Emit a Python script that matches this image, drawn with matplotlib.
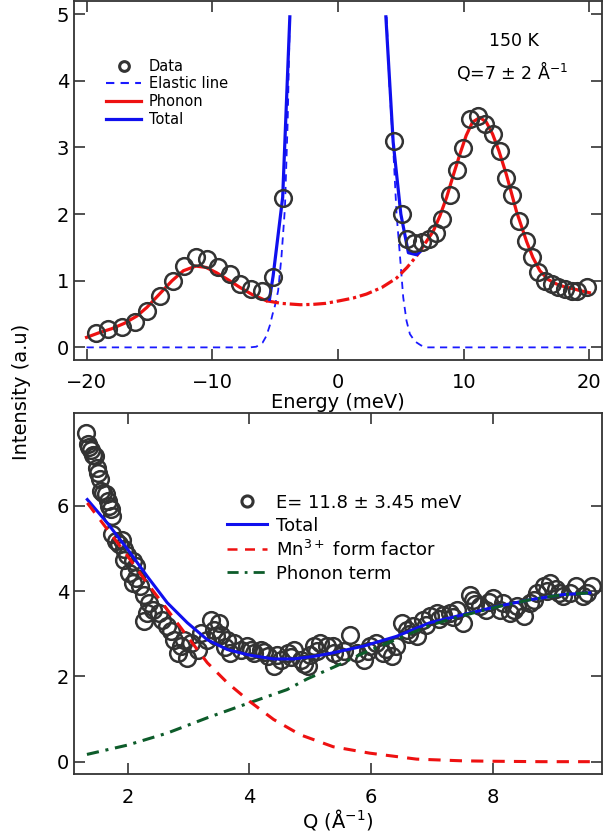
import matplotlib
matplotlib.use("Agg")
import matplotlib.pyplot as plt

plt.rcParams['font.family'] = ['DejaVu Sans']

# ---------------- top panel data ----------------
energy = [-19.28, -18.28, -17.2, -16.16, -15.23, -14.17, -13.16, -12.26, -11.33, -10.45,
          -9.53, -8.6, -7.8, -6.95, -6.03, -5.15, -4.36,
          4.42, 5.08, 5.5, 6.06, 6.7, 7.25, 7.8, 8.3, 8.88, 9.43, 9.96, 10.49, 11.1,
          11.7, 12.35, 12.88, 13.36, 13.85, 14.4, 14.93, 15.4, 15.93, 16.46, 16.99,
          17.52, 18.05, 18.59, 19.0, 19.8]
intensity_e = [0.22, 0.27, 0.31, 0.38, 0.54, 0.77, 1.00, 1.22, 1.35, 1.32,
               1.21, 1.10, 0.95, 0.88, 0.85, 1.05, 2.24,
               3.10, 2.00, 1.62, 1.56, 1.58, 1.62, 1.72, 1.92, 2.29, 2.66, 2.99, 3.42, 3.47,
               3.35, 3.20, 2.95, 2.54, 2.29, 1.90, 1.59, 1.35, 1.13, 1.00, 0.95,
               0.90, 0.87, 0.85, 0.84, 0.91]

elastic_left_x = [-20, -7.0, -6.5, -6.0, -5.7, -5.42, -5.2, -5.02, -4.76, -4.5, -4.22, -4.0, -3.83]
elastic_left_y = [0, 0, 0.01, 0.07, 0.17, 0.33, 0.5, 0.62, 0.85, 1.35, 2.09, 3.4, 4.96]
elastic_right_x = [3.87, 4.1, 4.39, 4.66, 4.92, 5.19, 5.45, 5.72, 6.12, 6.6, 7.05, 20]
elastic_right_y = [4.96, 3.9, 3.0, 2.0, 1.4, 0.75, 0.4, 0.2, 0.09, 0.03, 0.0, 0.0]

# phonon fit: left wing, middle (unfitted) section, right wing
phonon_left_x = [-20, -19, -18, -17, -16, -15.2, -14.2, -13.2, -12.3, -11.3, -10.5, -9.66,
                 -8.7, -7.8, -6.8, -5.7]
phonon_left_y = [0.15, 0.22, 0.28, 0.36, 0.47, 0.60, 0.80, 1.0, 1.15, 1.22, 1.2, 1.12,
                 1.01, 0.90, 0.79, 0.70]
phonon_mid_x = [-5.7, -4.5, -3.0, -2.0, -1.0, 0.15, 1.2, 2.27, 3.5, 4.66, 5.5, 6.25, 7.0]
phonon_mid_y = [0.70, 0.66, 0.64, 0.645, 0.66, 0.70, 0.74, 0.80, 0.90, 1.04, 1.2, 1.37, 1.58]
phonon_right_x = [7.0, 7.57, 8.1, 8.64, 9.2, 9.7, 10.2, 10.7, 11.29, 11.8, 12.3, 12.8, 13.4,
                  14.2, 15.0, 15.5, 16.06, 16.7, 17.39, 18.0, 18.7, 19.3, 20.0]
phonon_right_y = [1.58, 1.74, 1.97, 2.25, 2.6, 2.9, 3.18, 3.38, 3.45, 3.38, 3.2, 2.95, 2.59,
                  2.04, 1.59, 1.35, 1.15, 1.02, 0.95, 0.91, 0.88, 0.85, 0.82]

total_left_x = [-5.45, -5.16, -4.4, -3.83]
total_left_y = [0.72, 1.07, 2.25, 4.96]
total_right_x = [3.81, 4.39, 5.0, 5.6, 6.25, 6.5]
total_right_y = [4.96, 3.08, 2.0, 1.42, 1.39, 1.43]

# ---------------- bottom panel data ----------------
q_data = [1.31, 1.34, 1.37, 1.39, 1.43, 1.46, 1.49, 1.51, 1.55, 1.56, 1.60, 1.64, 1.67, 1.70,
          1.72, 1.75, 1.75, 1.80, 1.86, 1.91, 1.94, 1.99, 1.94, 2.08, 2.13, 2.02, 2.13, 2.08,
          2.21, 2.27, 2.35, 2.32, 2.41, 2.52, 2.27, 2.57, 2.65, 2.71, 2.76, 2.87, 2.82, 2.93,
          3.04, 3.15, 2.98, 3.37, 3.50, 3.42, 3.20, 3.31, 3.53, 3.64, 3.75, 3.86, 3.69, 3.97,
          4.08, 4.19, 4.30, 4.41, 4.52, 4.63, 4.74, 4.85, 4.96, 5.06, 5.17, 5.28, 5.39,
          3.45, 3.60, 4.02, 4.25, 4.45, 4.68, 4.90, 5.00, 5.12,
          5.38, 5.49, 5.66, 5.77, 5.88, 5.99, 6.09, 6.20, 6.34, 6.42, 6.51, 6.59, 6.70, 6.75,
          6.86, 6.97, 7.08, 7.19, 7.30, 7.41, 7.52, 7.63, 7.68, 7.79, 7.90, 8.01, 8.12, 8.18,
          8.29, 8.40, 8.51, 8.62, 8.73, 8.84, 8.94, 9.05, 9.16, 9.27, 9.38, 9.49, 9.63,
          5.55, 5.95, 6.25, 6.62, 6.90, 7.12, 7.35, 7.72, 7.95, 8.35, 8.68, 8.90, 9.10, 9.55]
i_data = [7.70, 7.46, 7.38, 7.32, 7.20, 7.17, 6.90, 6.78, 6.62, 6.35, 6.30, 6.27, 6.11, 6.00,
          5.92, 5.76, 5.33, 5.17, 5.10, 5.21, 4.98, 4.86, 4.74, 4.70, 4.59, 4.43, 4.31, 4.19,
          4.12, 3.92, 3.72, 3.49, 3.57, 3.49, 3.29, 3.33, 3.18, 3.06, 2.86, 2.71, 2.55, 2.86,
          2.79, 2.63, 2.43, 3.33, 3.26, 3.10, 3.02, 2.86, 2.98, 2.86, 2.79, 2.63, 2.55, 2.71,
          2.55, 2.63, 2.47, 2.24, 2.39, 2.55, 2.63, 2.39, 2.24, 2.71, 2.79, 2.71, 2.55,
          2.95, 2.70, 2.62, 2.58, 2.50, 2.45, 2.30, 2.50, 2.60,
          2.71, 2.47, 2.98, 2.55, 2.39, 2.71, 2.79, 2.55, 2.47, 2.71, 3.26, 3.10, 3.18, 2.94,
          3.33, 3.41, 3.49, 3.45, 3.49, 3.57, 3.26, 3.92, 3.80, 3.65, 3.57, 3.84, 3.57, 3.72,
          3.49, 3.65, 3.41, 3.72, 3.96, 4.12, 4.19, 4.04, 3.88, 3.96, 4.12, 3.88, 4.12,
          2.60, 2.60, 2.65, 3.00, 3.20, 3.35, 3.40, 3.70, 3.75, 3.55, 3.80, 4.00, 3.95, 3.95]

q_total = [1.336, 1.665, 2.0, 2.32, 2.65, 2.98, 3.31, 3.64, 4.0, 4.40, 4.73, 5.06, 5.33,
           5.875, 6.42, 6.97, 7.52, 8.07, 8.62, 9.16, 9.60]
i_total = [6.15, 5.60, 4.98, 4.35, 3.73, 3.26, 2.86, 2.63, 2.50, 2.41, 2.41, 2.47, 2.54,
           2.71, 2.94, 3.26, 3.45, 3.64, 3.80, 3.92, 3.96]

q_mn = [1.336, 1.665, 2.0, 2.32, 2.65, 2.98, 3.31, 3.64, 4.0, 4.40, 4.84, 5.38, 5.98,
        6.75, 7.5, 8.0, 8.8, 9.6]
i_mn = [6.07, 5.45, 4.82, 4.19, 3.57, 2.94, 2.32, 1.85, 1.42, 0.99, 0.63, 0.35, 0.20,
        0.06, 0.02, 0.01, 0.0, 0.0]

q_phonon = [1.33, 2.0, 2.65, 3.31, 4.0, 4.62, 4.95, 5.44, 5.88, 6.42, 6.97, 7.52, 8.07,
            8.62, 9.16, 9.60]
i_phonon = [0.17, 0.39, 0.67, 1.03, 1.38, 1.69, 1.94, 2.25, 2.55, 2.87, 3.2, 3.43, 3.63,
            3.80, 3.92, 3.96]

ytick_top = [0, 1, 2, 3, 4, 5]
xtick_top = [-20, -10, 0, 10, 20]
ytick_bot = [0, 2, 4, 6]
xtick_bot = [2, 4, 6, 8]

# ---------------- figure ----------------
fig = plt.figure(figsize=(6.03, 8.34), dpi=100)
ax1 = fig.add_axes([0.1227, 0.5683, 0.8756, 0.4307])
ax2 = fig.add_axes([0.1227, 0.0719, 0.8756, 0.4329])

frame_col = '#333333'
circ = dict(marker='o', ms=12, mfc='none', mec='#333333', mew=1.8, ls='none')
blue = '#1010ee'
red = '#ee1111'
green = '#0d5c2a'
mid_dash = (0, (4, 1.2, 1, 1.2))
dashdot = (0, (4, 2.2, 1, 2.2))

for ax in (ax1, ax2):
    for s in ax.spines.values():
        s.set_color(frame_col)
        s.set_linewidth(1.3)
    ax.tick_params(direction='in', length=8, width=1.2, color=frame_col,
                   top=True, right=True, labelsize=14)

# top panel
ax1.plot(elastic_left_x, elastic_left_y, color='#1a1aff', ls=(0, (4, 3)), lw=1.3, zorder=2)
ax1.plot(elastic_right_x, elastic_right_y, color='#1a1aff', ls=(0, (4, 3)), lw=1.3, zorder=2)
ax1.plot(phonon_left_x, phonon_left_y, color=red, lw=2.3, zorder=3)
ax1.plot(phonon_mid_x, phonon_mid_y, color=red, lw=2.3, ls=mid_dash, zorder=3)
ax1.plot(phonon_right_x, phonon_right_y, color=red, lw=2.3, zorder=3)
ax1.plot(total_left_x, total_left_y, color=blue, lw=2.3, zorder=3)
ax1.plot(total_right_x, total_right_y, color=blue, lw=2.3, zorder=3)
ax1.plot(energy, intensity_e, zorder=4, **circ)

ax1.set_xlim(-21, 21)
ax1.set_ylim(-0.19, 5.2)
ax1.set_xticks(xtick_top)
ax1.set_yticks(ytick_top)
ax1.tick_params(axis='x', pad=9)
ax1.set_xlabel('Energy (meV)', fontsize=14, labelpad=1)

h_data, = ax1.plot([], [], marker='o', ms=7, mfc='none', mec='#333333', mew=2.2, ls='none')
h_el, = ax1.plot([], [], color='#1a1aff', ls=(0, (4, 3)), lw=1.5)
h_ph, = ax1.plot([], [], color=red, lw=2.3)
h_to, = ax1.plot([], [], color=blue, lw=2.3)
ax1.legend([h_data, h_el, h_ph, h_to], ['Data', 'Elastic line', 'Phonon', 'Total'],
           loc='upper left', bbox_to_anchor=(0.05, 0.855), frameon=False, fontsize=10.5,
           handlelength=2.4, handletextpad=0.5, labelspacing=0.18, borderaxespad=0)

ax1.text(0.833, 0.889, '150 K', transform=ax1.transAxes, ha='center', va='center', fontsize=12.5)
ax1.text(0.83, 0.805, 'Q=7 ± 2 Å$^{-1}$', transform=ax1.transAxes, ha='center', va='center',
         fontsize=12.5)

# bottom panel
ax2.plot(q_data, i_data, zorder=2, **circ)
ax2.plot(q_total, i_total, color=blue, lw=2.2, zorder=3)
ax2.plot(q_phonon, i_phonon, color=green, lw=2.2, ls=dashdot, zorder=4)
ax2.plot(q_mn, i_mn, color=red, lw=2.2, ls=(0, (4, 3)), zorder=5)

ax2.set_xlim(1.117, 9.8)
ax2.set_ylim(-0.29, 8.18)
ax2.set_xticks(xtick_bot)
ax2.set_yticks(ytick_bot)
ax2.tick_params(axis='x', pad=10)
ax2.set_xlabel('Q (Å$^{-1}$)', fontsize=14, labelpad=0)

g_data, = ax2.plot([], [], marker='o', ms=8, mfc='none', mec='#333333', mew=2.2, ls='none')
g_to, = ax2.plot([], [], color=blue, lw=2.2)
g_mn, = ax2.plot([], [], color=red, lw=1.8, ls=(0, (4, 3)))
g_ph, = ax2.plot([], [], color=green, lw=2.0, ls=dashdot)
ax2.legend([g_data, g_to, g_mn, g_ph],
           ['E= 11.8 ± 3.45 meV', 'Total', 'Mn$^{3+}$ form factor', 'Phonon term'],
           loc='upper left', bbox_to_anchor=(0.277, 0.797), frameon=False, fontsize=13,
           handlelength=2.2, handletextpad=0.5, labelspacing=0.28, borderaxespad=0)

fig.text(0.036, 0.53, 'Intensity (a.u)', rotation=90, ha='center', va='center', fontsize=14)

fig.savefig('out.png', dpi=100)
